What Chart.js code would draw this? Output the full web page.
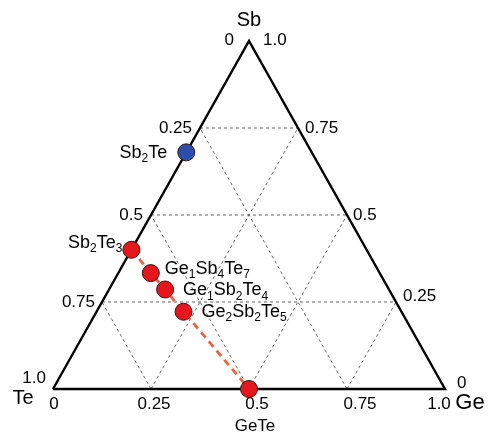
<!DOCTYPE html>
<html>
<head>
<meta charset="utf-8">
<script src="https://cdn.jsdelivr.net/npm/chart.js@4.4.0/dist/chart.umd.min.js"></script>
<style>
  body { margin: 0; background: #fff; }
  #wrap { position: relative; width: 488px; height: 436px; }
</style>
</head>
<body>
<div id="wrap"><canvas id="tern" width="488" height="436"></canvas></div>
<script>
// 三元相图 Ge-Sb-Te
var compounds = ['Sb2Te', 'Sb2Te3', 'Ge1Sb4Te7', 'Ge1Sb2Te4', 'Ge2Sb2Te5', 'GeTe'];
var geFrac = [0, 0, 0.083, 0.143, 0.222, 0.5];   // Ge 含量
var sbFrac = [0.68, 0.4, 0.333, 0.286, 0.222, 0]; // Sb 含量
var markerColors = ['#2c4fae', '#e5161c', '#e5161c', '#e5161c', '#e5161c', '#e5161c'];
var tieLine = ['Sb2Te3', 'GeTe']; // 虚线连接
var tickValues = [0, 0.25, 0.5, 0.75, 1];
var tickLabels = ['0', '0.25', '0.5', '0.75', '1.0'];
var gridValues = [0.25, 0.5, 0.75];
var cornerNames = ['Te', 'Ge', 'Sb'];

var FONT = '"Liberation Sans", Arial, sans-serif';

// 三元坐标 -> 直角坐标
var tern = function(g, s){
    return {x: g + s / 2, y: s};
}

var datasets = [];
// 化合物点
datasets.push({
    label: 'compounds',
    data: compounds.map(function(c, i){ return tern(geFrac[i], sbFrac[i]); }),
    pointRadius: 8.5,
    pointHoverRadius: 8.5,
    pointBackgroundColor: markerColors,
    pointBorderColor: '#3a1414',
    pointBorderWidth: 1,
    showLine: false,
    clip: false
});
// 红色虚线
var tieData = tieLine.map(function(n){
    var i = compounds.indexOf(n);
    return tern(geFrac[i], sbFrac[i]);
});
datasets.push({
    label: 'tie',
    data: tieData,
    showLine: true,
    borderColor: '#f2603c',
    borderWidth: 2.8,
    borderDash: [7, 5],
    pointRadius: 0,
    clip: false
});
// 三角形边框
datasets.push({
    label: 'frame',
    data: [tern(0, 0), tern(1, 0), tern(0, 1), tern(0, 0)],
    showLine: true,
    borderColor: '#000',
    borderWidth: 2.4,
    pointRadius: 0,
    borderJoinStyle: 'miter',
    clip: false
});
// 网格虚线
gridValues.forEach(function(v){
    var lines = [
        [tern(0, v), tern(1 - v, v)],       // Sb 恒定
        [tern(v, 0), tern(v, 1 - v)],       // Ge 恒定
        [tern(1 - v, 0), tern(0, 1 - v)]    // Te 恒定
    ];
    lines.forEach(function(l){
        datasets.push({
            label: 'grid',
            data: l,
            showLine: true,
            borderColor: '#555',
            borderWidth: 0.9,
            borderDash: [3, 3],
            pointRadius: 0,
            clip: false
        });
    });
});

// 带下标的文字
function drawFormula(ctx, text, x, y, align, size){
    var parts = text.match(/[A-Za-z]+|[0-9]+/g);
    var sub = Math.round(size * 0.68);
    var w = 0;
    parts.forEach(function(p){
        ctx.font = (/[0-9]/.test(p) ? sub : size) + 'px ' + FONT;
        w += ctx.measureText(p).width;
    });
    var cx = align == 'right' ? x - w : (align == 'center' ? x - w / 2 : x);
    ctx.textAlign = 'left';
    ctx.textBaseline = 'middle';
    parts.forEach(function(p){
        var isSub = /[0-9]/.test(p);
        ctx.font = (isSub ? sub : size) + 'px ' + FONT;
        ctx.fillText(p, cx, isSub ? y + size * 0.32 : y);
        cx += ctx.measureText(p).width;
    });
}

var labelPlugin = {
    id: 'ternLabels',
    afterDatasetsDraw: function(chart){
        var ctx = chart.ctx;
        var xs = chart.scales.x, ys = chart.scales.y;
        var px = function(p){ return {x: xs.getPixelForValue(p.x), y: ys.getPixelForValue(p.y)}; };
        ctx.save();
        ctx.fillStyle = '#000';
        ctx.textBaseline = 'middle';
        ctx.font = '17px ' + FONT;
        // 左边: Te 含量
        var leftDx = [-15, -8, -8, -7, -7];
        var leftDy = [-1, 0, 0, 0, -11];
        tickValues.forEach(function(t, i){
            var p = px(tern(0, 1 - t));
            ctx.textAlign = 'right';
            ctx.fillText(tickLabels[i], p.x + leftDx[i], p.y + leftDy[i]);
        });
        // 右边: Sb 含量
        var rightDx = [12, 7, 6, 7, 14];
        var rightDy = [-6, -6, 0, 0, -1];
        tickValues.forEach(function(s, i){
            var p = px(tern(1 - s, s));
            ctx.textAlign = 'left';
            ctx.fillText(tickLabels[i], p.x + rightDx[i], p.y + rightDy[i]);
        });
        // 底边: Ge 含量
        var botDx = [1, 3, 8, 13, -6];
        tickValues.forEach(function(g, i){
            var p = px(tern(g, 0));
            ctx.textAlign = 'center';
            ctx.fillText(tickLabels[i], p.x + botDx[i], p.y + 15);
        });
        // 顶点名称
        ctx.textAlign = 'center';
        var pTe = px(tern(0, 0)), pGe = px(tern(1, 0)), pSb = px(tern(0, 1));
        ctx.font = '20px ' + FONT;
        ctx.fillText(cornerNames[0], pTe.x - 30, pTe.y + 9);
        ctx.font = '22px ' + FONT;
        ctx.fillText(cornerNames[1], pGe.x + 25, pGe.y + 14);
        ctx.font = '20px ' + FONT;
        ctx.fillText(cornerNames[2], pSb.x, pSb.y - 21);
        // 化合物名称
        var nameDx = [-19, -9, 14, 18, 18, 6];
        var nameDy = [1, -7, -4, 1, 0, 37];
        var nameAlign = ['right', 'right', 'left', 'left', 'left', 'center'];
        var nameSize = [18, 18, 18, 18, 18, 17];
        compounds.forEach(function(c, i){
            var p = px(tern(geFrac[i], sbFrac[i]));
            drawFormula(ctx, c, p.x + nameDx[i], p.y + nameDy[i], nameAlign[i], nameSize[i]);
        });
        ctx.restore();
    }
};

new Chart(document.getElementById('tern'), {
    type: 'scatter',
    data: { datasets: datasets },
    options: {
        responsive: false,
        animation: false,
        layout: { padding: { left: 53, right: 43, top: 41, bottom: 47 } },
        scales: {
            x: { type: 'linear', min: 0, max: 1, display: false },
            y: { type: 'linear', min: 0, max: 1, display: false }
        },
        plugins: {
            legend: { display: false },
            tooltip: { enabled: false }
        }
    },
    plugins: [labelPlugin]
});
</script>
</body>
</html>
